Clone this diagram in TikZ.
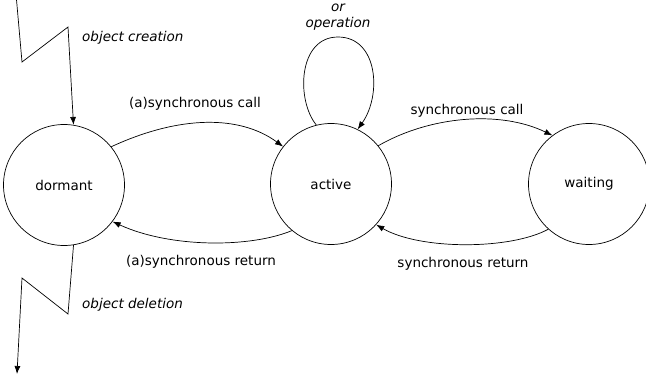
\documentclass[tikz,border=0pt]{standalone}
\usepackage{fontspec}
\setmainfont{DejaVu Sans}
\usetikzlibrary{arrows.meta}
\begin{document}
\begin{tikzpicture}[x=1pt,y=-1pt,
  state/.style={draw,line width=0.7pt,circle,minimum size=121pt,inner sep=0pt,font=\fontsize{13.5}{15}\selectfont},
  lbl/.style={font=\fontsize{13.5}{15}\selectfont,inner sep=0pt},
  ilbl/.style={font=\fontsize{13.5}{15}\selectfont\itshape,inner sep=0pt},
  conn/.style={draw,line width=0.7pt,-{Latex[length=8pt,width=6pt]}}]
\useasboundingbox (0,0) rectangle (646,378);
\node[state] (dormant) at (64,185) {dormant};
\node[state] (active) at (331,184) {active};
\node[state] (waiting) at (589,184) {waiting};
% creation / deletion zigzags
\coordinate (c0) at (16,-6);
\coordinate (c1) at (22,62);
\coordinate (c2) at (68,27);
\path[conn] (c0) -- (c1) -- (c2) -- (dormant.81);
\coordinate (d1) at (68,314);
\coordinate (d2) at (22,278);
\coordinate (d3) at (17,374);
\path[conn] (dormant.279) -- (d1) -- (d2) -- (d3);
\node[ilbl,anchor=west] (lcreate) at (82,38) {object creation};
\node[ilbl,anchor=west] (ldelete) at (82,305) {object deletion};
% calls and returns
\path[conn] (dormant.39) .. controls (180,115) and (240,115) .. (active.142);
\path[conn] (active.230) .. controls (250,248) and (170,248) .. (dormant.323);
\path[conn] (active.39.5) .. controls (430,116) and (500,110) .. (waiting.127.5);
\path[conn] (waiting.228) .. controls (510,250) and (420,250) .. (active.318);
\node[lbl] (l1) at (195,104) {(a)synchronous call};
\node[lbl] (l2) at (201,262) {(a)synchronous return};
\node[lbl] (l3) at (467,111) {synchronous call};
\node[lbl] (l4) at (463,264) {synchronous return};
% loop
\coordinate (top) at (338,37);
\path[conn] (active.104) .. controls (296,100) and (298,37) .. (top) .. controls (378,37) and (382,95) .. (active.64);
\node[ilbl,anchor=base] (lor) at (338,11) {or};
\node[ilbl,anchor=base] (lop) at (338,27) {operation};
\end{tikzpicture}
\end{document}
